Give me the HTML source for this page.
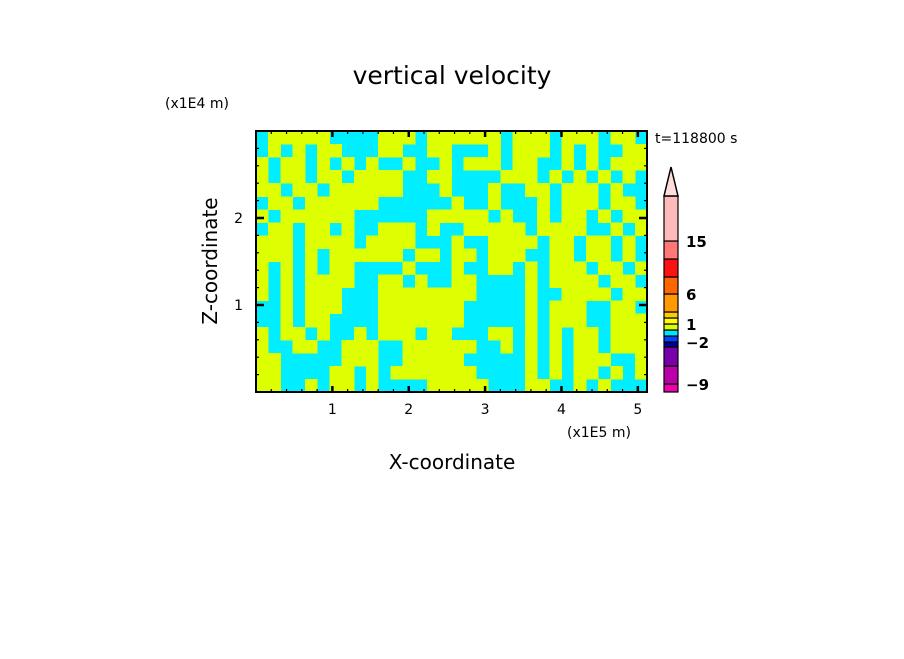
<!DOCTYPE html>
<html><head><meta charset="utf-8"><style>
body{margin:0;background:#fff;width:904px;height:654px;overflow:hidden}
svg text{font-family:"DejaVu Sans","Liberation Sans",sans-serif;fill:#000}
</style></head><body>
<svg id="chart" width="904" height="654" xmlns="http://www.w3.org/2000/svg">
<text x="452" y="84" font-size="25" text-anchor="middle">vertical velocity</text>
<text x="165" y="108" font-size="14">(x1E4 m)</text>
<text x="655" y="143" font-size="14">t=118800 s</text>
<text x="567" y="437" font-size="14">(x1E5 m)</text>
<text x="452" y="469" font-size="20" text-anchor="middle">X-coordinate</text>
<text transform="translate(217,261) rotate(-90)" font-size="20" text-anchor="middle">Z-coordinate</text>
<g id="field" shape-rendering="crispEdges"></g>
<g id="axes"></g>
<g id="cbar"></g>
</svg>
<script>
const xTicks=[1,2,3,4,5];
const yTicks=[1,2];
const xMax=5.12, yMax=3.0;
const fieldLeft=[
".YYYYY....YYY.YY",".Y.Y.YY...YY..YY","Y.YY.Y.Y.Y..Y..Y","Y.YY.YY.YYYY..YY",
"YY.YY.YYYYYY...Y",".YY.YYYYYY......","Y.YYYYYY......YY",".YY.YY.Y..YYY.Y.",
"YYY.YYYY.YYYY...","YYY.Y.YYYYYY.YY.","Y.Y.Y.YY....Y...","Y.Y.YYYY..YY.Y..",
"Y.Y.YYY...YYYYYY","..Y.YYY...YYYYYY","..Y.YY....YYYYYY","Y.YY.Y..Y.YYY.YY",
"Y..YY..YYY..YYYY","YY.....YYY..YYYY","YY....YY.Y.YYYYY","YY..Y.YY.Y....YY"
];
const fieldRight=[
"YYYY.YYY.YYY.YY.","...Y.YYY.Y.Y..YY",".YYY.YY..Y.Y.YYY","....YYY.Y.Y.Y.Y.",
"...Y..YY.YYY.Y..","Y..Y...Y.YYY.YY.","YYY.Y..Y.YY.Y.YY",".YYYYY.YYYY..Y.Y",
"Y..YYYY.YY.YY.Y.","YY.YYY..YY.YY.Y.","Y..YY.Y.YYY.YY.Y","YY....Y.YYYY.YY.",
"YY....Y..YYYY.YY","Y.....Y.YYY..YY.","Y.....Y.YYY..YYY","...YY.Y.Y.YY.YYY",
"YY..Y.Y.Y.YY.YYY","Y.....Y.Y.YYY..Y","YY....Y.Y.YY.Y.Y","YYY...YY..Y.Y..."
];
const cbColors=["#ee00aa","#bb00aa","#7700aa","#000099","#0044ff","#00e5ff","#ddff00","#ffff00","#ffcc00","#ff9900","#ff6600","#ff1111","#ff7777","#ffbbbb"];
const cbHeights=[8,18,19,5,6,6,6,6,6,18,17,18,18,45];
const cbLabels=["-9","-2","1","6","15"];
const cbLabelIdx=[0,3,6,9,12];

const NS="http://www.w3.org/2000/svg";
const L=256,R=647,T=131,B=392;
const sx=v=>L+(v/xMax)*(R-L);
const sy=v=>B-(v/yMax)*(B-T);
function mk(tag,attrs,parent){const e=document.createElementNS(NS,tag);for(const k in attrs)e.setAttribute(k,attrs[k]);parent.appendChild(e);return e;}
const field=document.getElementById('field');
const bg=mk('rect',{x:L,y:T,width:R-L,height:B-T,fill:'#00eeff'},field);


const fieldRows=fieldLeft.map((s,i)=>s+fieldRight[i]);
const nr=fieldRows.length,nc=fieldRows[0].length;
const cw=(R-L)/nc,ch=(B-T)/nr;
fieldRows.forEach((row,i)=>{for(let j=0;j<nc;j++){if(row[j]==='Y'){
 const c=mk('rect',{x:L+j*cw,y:T+i*ch,width:cw+0.5,height:ch+0.5,fill:'#ddff00'},field);
 
 
}}});
const axes=document.getElementById('axes');
const frame=mk('rect',{x:L,y:T,width:R-L,height:B-T,fill:'none',stroke:'#000','stroke-width':2},axes);


for(let v=0.2;v<xMax;v+=0.2){const x=sx(v);const major=Math.abs(v-Math.round(v))<0.01;const len=major?6:3;
 mk('line',{x1:x,y1:B,x2:x,y2:B-len,stroke:'#000','stroke-width':major?2.5:1.2},axes);
 mk('line',{x1:x,y1:T,x2:x,y2:T+len,stroke:'#000','stroke-width':major?2.5:1.2},axes);}
for(let v=0.2;v<yMax;v+=0.2){const y=sy(v);const major=Math.abs(v-Math.round(v))<0.01;const len=major?8:3;
 mk('line',{x1:L,y1:y,x2:L+len,y2:y,stroke:'#000','stroke-width':major?2.5:1.2},axes);
 mk('line',{x1:R,y1:y,x2:R-len,y2:y,stroke:'#000','stroke-width':major?2.5:1.2},axes);}
xTicks.forEach(v=>{const t=mk('text',{x:sx(v),y:414,'font-size':14,'text-anchor':'middle'},axes);t.textContent=v;
 
 });
yTicks.forEach(v=>{const t=mk('text',{x:243,y:sy(v)+5,'font-size':14,'text-anchor':'end'},axes);t.textContent=v;
 
 });
const cb=document.getElementById('cbar');
const cx=664,cwid=14;let y=392;const tops=[];
cbColors.forEach((c,i)=>{const h=cbHeights[i];y-=h;tops.push(y);
 const r=mk('rect',{x:cx,y:y,width:cwid,height:h,fill:c,stroke:'#000','stroke-width':1.2},cb);
 
 });
const tri=mk('polygon',{points:`${cx},${y} ${cx+cwid},${y} ${cx+cwid/2},${y-29}`,fill:'#ffdddd',stroke:'#000','stroke-width':1.5},cb);


cbLabels.forEach((s,i)=>{const t=mk('text',{x:686,y:tops[cbLabelIdx[i]]+6,'font-size':15,'font-weight':'bold'},cb);t.textContent=s.replace('-','\u2212');
 
 });
</script>
</body></html>
